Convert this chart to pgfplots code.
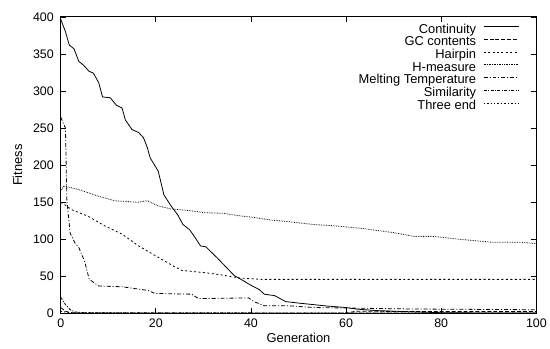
\documentclass[border=0pt]{standalone}
\usepackage{pgfplots}
\pgfplotsset{compat=1.18}
\usepackage{fontspec}
\setmainfont{Liberation Sans}
\begin{document}
\begin{tikzpicture}
\begin{axis}[
  scale only axis,
  width=478bp, height=298bp,
  xmin=0, xmax=100, ymin=0, ymax=400,
  xtick={0,20,40,60,80,100},
  ytick={0,50,...,400},
  tick align=inside,
  major tick length=5bp,
  axis line style={line width=0.9pt},
  tick style={line width=0.7pt, black},
  /pgf/number format/assume math mode=true,
  ticklabel style={font=\fontsize{12.5}{15}\selectfont},
  yticklabel style={xshift=-3.5bp},
  xticklabel style={yshift=-1.5bp},
  label style={font=\fontsize{13}{15}\selectfont},
  xlabel={Generation},
  ylabel={Fitness},
  xlabel style={yshift=1bp},
  ylabel style={yshift=4bp},
  legend plot pos=right,
  legend cell align=right,
  legend style={draw=none, fill=none, at={(1,1)}, anchor=north east, xshift=-14bp, yshift=-5bp,
    font=\fontsize{13}{13}\selectfont, row sep=0.8bp,
    nodes={inner sep=0pt, text height=9bp, text depth=3bp}},
  legend image code/.code={\path (0cm,0cm); \draw[#1] (0.25cm,0.12cm) -- (1.5cm,0.12cm);},
  every axis plot/.append style={black, line width=0.8pt},
]
% Continuity
\addplot[solid] coordinates {(0,397) (1,380) (1.8,362) (2.8,357) (3.8,340) (4.8,335) (5.9,327) (6.9,324) (8,311) (8.8,292) (10.4,291) (11.7,281) (12.9,277) (13.6,261) (15,248) (16.4,244) (17.4,237) (18.2,224) (18.8,210) (20.5,192) (21.7,160) (23.2,145) (24.6,133) (25.7,120) (27.1,113) (28.3,102) (29.4,91) (30.5,90) (32.9,75) (36.5,51) (37.9,46) (40,38) (41.8,32) (42.8,26) (45,24) (47.3,16) (50,14) (53,12) (56,10) (60,8) (62,6) (66,4) (70,3) (75,2) (80,1) (90,0.6) (100,0.5)};
\addlegendentry{Continuity}
% GC contents
\addplot[dash pattern=on 4pt off 2pt] coordinates {(0,8) (1,3) (2,1.2) (4,0.6) (20,0.4) (60,0.3) (62,3) (80,2.5) (100,2.5)};
\addlegendentry{GC contents}
% Hairpin
\addplot[dash pattern=on 2pt off 2.5pt] coordinates {(0,150) (1,146) (2.3,140) (5.8,131) (9.3,118) (12.9,107) (16.4,91) (19.9,78) (23.4,65) (25.5,58) (30.3,55) (33.8,52) (37.4,48) (42,46) (100,46)};
\addlegendentry{Hairpin}
% H-measure
\addplot[dash pattern=on 0.7pt off 1pt] coordinates {(0,165) (0.7,172) (3.8,167) (8,158) (11.4,152) (16.2,150) (18.2,152) (20.5,145) (23.2,141) (26.7,139) (30.3,136) (34.4,135) (37.2,132) (40,130) (44.2,126) (47.6,124) (53.2,120) (58,118) (63,115) (70,109) (74.2,104) (78.3,104) (83.9,100) (90.8,96) (97,96) (100,94)};
\addlegendentry{H-measure}
% Melting Temperature
\addplot[dash pattern=on 4pt off 2pt on 1pt off 2pt] coordinates {(0,265) (1,250) (1.3,152) (2,108) (3,95) (3.8,89) (5,71) (6,46) (8,37) (12.9,36) (18.4,31) (19.8,27) (27.5,26) (29,20) (39.5,21) (40.6,16) (42.8,10.5) (47.6,10.5) (53.2,8) (74,6) (100,5)};
\addlegendentry{Melting Temperature}
% Similarity
\addplot[dash pattern=on 3pt off 1.5pt on 1pt off 1.5pt] coordinates {(0,22) (1,12) (2,5) (3,2) (5,1) (30,0.8) (100,0.5)};
\addlegendentry{Similarity}
% Three end
\addplot[dash pattern=on 1.5pt off 2pt] coordinates {(0,3) (2,0.8) (100,0.3)};
\addlegendentry{Three end}
\end{axis}
\path (current axis.south west) ++(-61bp,-35bp) coordinate (bbA);
\path (current axis.north east) ++(11bp,17bp) coordinate (bbB);
\path (bbA) (bbB);
\end{tikzpicture}
\end{document}
